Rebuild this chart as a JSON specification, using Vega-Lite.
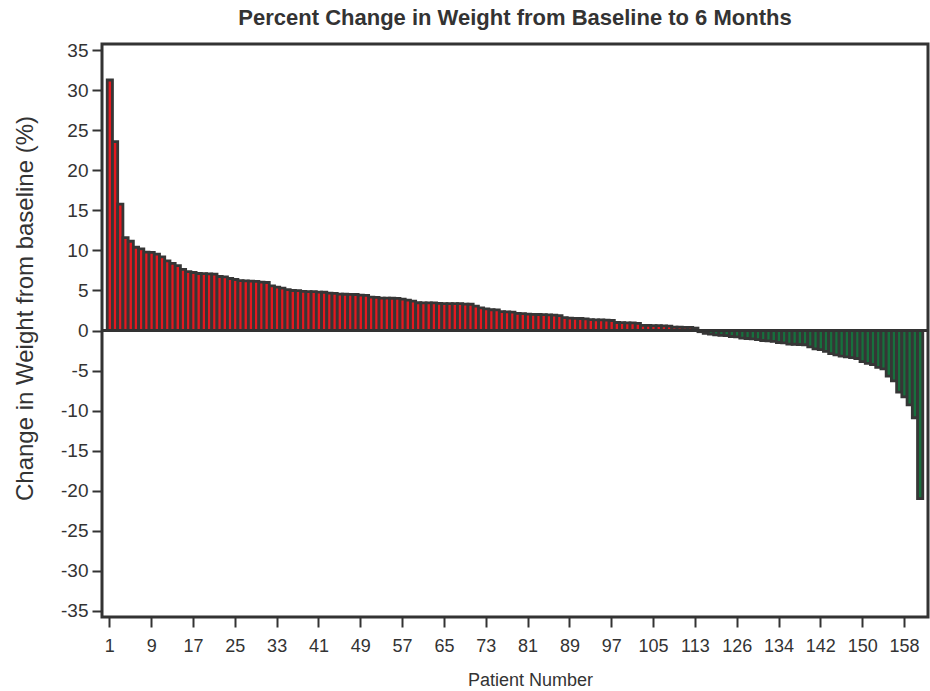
{
  "$schema": "https://vega.github.io/schema/vega-lite/v6.json",
  "width": 826,
  "height": 573,
  "autosize": {"type": "none"},
  "padding": {"left": 102, "top": 44, "right": 2, "bottom": 74},
  "background": "white",
  "config": {
    "font": "Liberation Sans",
    "view": {"stroke": "#333333", "strokeWidth": 3}
  },
  "title": {
    "text": "Percent Change in Weight from Baseline to 6 Months",
    "font": "Liberation Sans",
    "fontSize": 22,
    "fontWeight": "bold",
    "color": "#333333",
    "anchor": "middle",
    "offset": 11
  },
  "data": {
    "values": [
      {"patient": 1, "change": 31.3}, {"patient": 2, "change": 23.6}, {"patient": 3, "change": 15.8}, {"patient": 4, "change": 11.6},
      {"patient": 5, "change": 11.15}, {"patient": 6, "change": 10.4}, {"patient": 7, "change": 10.2}, {"patient": 8, "change": 9.8},
      {"patient": 9, "change": 9.75}, {"patient": 10, "change": 9.55}, {"patient": 11, "change": 9.2}, {"patient": 12, "change": 8.7},
      {"patient": 13, "change": 8.4}, {"patient": 14, "change": 8.1}, {"patient": 15, "change": 7.65}, {"patient": 16, "change": 7.35},
      {"patient": 17, "change": 7.25}, {"patient": 18, "change": 7.12}, {"patient": 19, "change": 7.1}, {"patient": 20, "change": 7.08},
      {"patient": 21, "change": 7.05}, {"patient": 22, "change": 6.75}, {"patient": 23, "change": 6.7}, {"patient": 24, "change": 6.5},
      {"patient": 25, "change": 6.37}, {"patient": 26, "change": 6.22}, {"patient": 27, "change": 6.2}, {"patient": 28, "change": 6.16},
      {"patient": 29, "change": 6.15}, {"patient": 30, "change": 6.05}, {"patient": 31, "change": 6.0}, {"patient": 32, "change": 5.58},
      {"patient": 33, "change": 5.41}, {"patient": 34, "change": 5.29}, {"patient": 35, "change": 5.1}, {"patient": 36, "change": 5.0},
      {"patient": 37, "change": 4.98}, {"patient": 38, "change": 4.88}, {"patient": 39, "change": 4.87}, {"patient": 40, "change": 4.86},
      {"patient": 41, "change": 4.8}, {"patient": 42, "change": 4.78}, {"patient": 43, "change": 4.68}, {"patient": 44, "change": 4.65},
      {"patient": 45, "change": 4.55}, {"patient": 46, "change": 4.53}, {"patient": 47, "change": 4.52}, {"patient": 48, "change": 4.5},
      {"patient": 49, "change": 4.42}, {"patient": 50, "change": 4.4}, {"patient": 51, "change": 4.17}, {"patient": 52, "change": 4.15},
      {"patient": 53, "change": 4.05}, {"patient": 54, "change": 4.04}, {"patient": 55, "change": 4.03}, {"patient": 56, "change": 4.02},
      {"patient": 57, "change": 3.91}, {"patient": 58, "change": 3.79}, {"patient": 59, "change": 3.66}, {"patient": 60, "change": 3.47},
      {"patient": 61, "change": 3.46}, {"patient": 62, "change": 3.45}, {"patient": 63, "change": 3.44}, {"patient": 64, "change": 3.38},
      {"patient": 65, "change": 3.37}, {"patient": 66, "change": 3.37}, {"patient": 67, "change": 3.36}, {"patient": 68, "change": 3.35},
      {"patient": 69, "change": 3.29}, {"patient": 70, "change": 3.28}, {"patient": 71, "change": 3.04}, {"patient": 72, "change": 2.83},
      {"patient": 73, "change": 2.7}, {"patient": 74, "change": 2.59}, {"patient": 75, "change": 2.57}, {"patient": 76, "change": 2.35},
      {"patient": 77, "change": 2.32}, {"patient": 78, "change": 2.29}, {"patient": 79, "change": 2.15}, {"patient": 80, "change": 2.1},
      {"patient": 81, "change": 2.05}, {"patient": 82, "change": 2.02}, {"patient": 83, "change": 2.0}, {"patient": 84, "change": 1.98},
      {"patient": 85, "change": 1.95}, {"patient": 86, "change": 1.92}, {"patient": 87, "change": 1.85}, {"patient": 88, "change": 1.6},
      {"patient": 89, "change": 1.55}, {"patient": 90, "change": 1.52}, {"patient": 91, "change": 1.5}, {"patient": 92, "change": 1.45},
      {"patient": 93, "change": 1.35}, {"patient": 94, "change": 1.33}, {"patient": 95, "change": 1.32}, {"patient": 96, "change": 1.3},
      {"patient": 97, "change": 1.25}, {"patient": 98, "change": 1.0}, {"patient": 99, "change": 0.98}, {"patient": 100, "change": 0.96},
      {"patient": 101, "change": 0.95}, {"patient": 102, "change": 0.9}, {"patient": 103, "change": 0.65}, {"patient": 104, "change": 0.63},
      {"patient": 105, "change": 0.62}, {"patient": 106, "change": 0.6}, {"patient": 107, "change": 0.58}, {"patient": 108, "change": 0.55},
      {"patient": 109, "change": 0.42}, {"patient": 110, "change": 0.41}, {"patient": 111, "change": 0.4}, {"patient": 112, "change": 0.38},
      {"patient": 113, "change": 0.3}, {"patient": 114, "change": -0.15}, {"patient": 115, "change": -0.35}, {"patient": 116, "change": -0.45},
      {"patient": 117, "change": -0.55}, {"patient": 118, "change": -0.6}, {"patient": 119, "change": -0.65}, {"patient": 120, "change": -0.75},
      {"patient": 126, "change": -0.8}, {"patient": 127, "change": -0.95}, {"patient": 128, "change": -1.0}, {"patient": 129, "change": -1.05},
      {"patient": 130, "change": -1.15}, {"patient": 131, "change": -1.25}, {"patient": 132, "change": -1.3}, {"patient": 133, "change": -1.35},
      {"patient": 134, "change": -1.5}, {"patient": 135, "change": -1.55}, {"patient": 136, "change": -1.7}, {"patient": 137, "change": -1.72},
      {"patient": 138, "change": -1.75}, {"patient": 139, "change": -1.78}, {"patient": 140, "change": -2.05}, {"patient": 141, "change": -2.3},
      {"patient": 142, "change": -2.4}, {"patient": 143, "change": -2.6}, {"patient": 144, "change": -2.9}, {"patient": 145, "change": -3.05},
      {"patient": 146, "change": -3.2}, {"patient": 147, "change": -3.3}, {"patient": 148, "change": -3.4}, {"patient": 149, "change": -3.5},
      {"patient": 150, "change": -3.9}, {"patient": 151, "change": -4.1}, {"patient": 152, "change": -4.25}, {"patient": 153, "change": -4.6},
      {"patient": 154, "change": -4.8}, {"patient": 155, "change": -5.7}, {"patient": 156, "change": -6.3}, {"patient": 157, "change": -7.7},
      {"patient": 158, "change": -8.3}, {"patient": 159, "change": -9.3}, {"patient": 160, "change": -10.9}, {"patient": 161, "change": -21.0}
    ]
  },
  "layer": [
    {
      "mark": {"type": "bar", "stroke": "#363636", "strokeWidth": 2.8},
      "encoding": {
        "x": {
          "field": "patient",
          "type": "ordinal",
          "scale": {"paddingInner": 0, "paddingOuter": 1.8},
          "axis": {
            "title": "Patient Number",
            "values": [1, 9, 17, 25, 33, 41, 49, 57, 65, 73, 81, 89, 97, 105, 113, 126, 134, 142, 150, 158],
            "labelAngle": 0,
            "domain": false,
            "tickSize": 10,
            "tickWidth": 2,
            "tickColor": "#333333",
            "labelFontSize": 18,
            "labelColor": "#333333",
            "labelPadding": 10,
            "titleFontSize": 18,
            "titleFontWeight": "normal",
            "titleColor": "#333333",
            "titlePadding": 16,
            "titleX": 428
          }
        },
        "y": {
          "field": "change",
          "type": "quantitative",
          "scale": {"domain": [-35.8, 35.8], "nice": false},
          "axis": {
            "title": "Change in Weight from baseline (%)",
            "values": [-35, -30, -25, -20, -15, -10, -5, 0, 5, 10, 15, 20, 25, 30, 35],
            "labelExpr": "'' + datum.value",
            "grid": false,
            "domain": false,
            "tickSize": 10,
            "tickWidth": 2,
            "tickColor": "#333333",
            "labelFontSize": 19,
            "labelColor": "#333333",
            "labelPadding": 4,
            "titleFontSize": 24,
            "titleFontWeight": "normal",
            "titleColor": "#333333",
            "titleAngle": -90,
            "titleAlign": "center",
            "titleBaseline": "middle",
            "titleX": -77,
            "titleY": 264
          }
        },
        "color": {
          "condition": {"test": "datum.change < 0", "value": "#17703d"},
          "value": "#e4181f"
        }
      }
    },
    {
      "mark": {"type": "rule", "color": "#333333", "strokeWidth": 2},
      "encoding": {"y": {"datum": 0}}
    }
  ]
}
